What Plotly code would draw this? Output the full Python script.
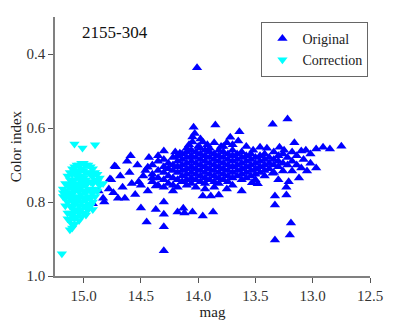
import plotly.graph_objects as go

# ---- Original (blue) : scattered points, (mag, color index) ----
orig_scatter_mag = [14.01, 13.22, 13.35, 13.85, 14.04, 14.05, 14.05, 13.96, 13.64, 13.72,
                    12.75, 12.85, 12.91, 12.97, 13.06, 13.10, 13.16,
                    13.33, 13.20, 13.19, 13.33, 13.33, 13.23, 13.23, 13.96, 13.87,
                    14.30, 14.45, 14.30, 14.37, 14.30, 14.50, 14.18, 14.12, 14.05, 14.13,
                    13.96, 13.89, 13.82, 13.94, 14.22, 14.30,
                    14.55, 14.70, 14.64, 14.83, 14.82, 14.78, 14.73, 14.59, 14.62, 14.53,
                    14.44, 14.43, 14.68, 14.58, 14.76, 14.50, 14.44, 14.37, 14.92, 14.77,
                    14.72, 14.66, 14.60, 14.48, 14.52, 14.40, 14.46, 14.87, 14.74,
                    14.30, 14.16, 14.35, 13.58, 13.52, 13.46, 13.40, 13.29, 13.25, 13.75,
                    13.80, 13.90, 14.00, 14.10, 14.20, 13.65,
                    13.48, 13.53, 13.62, 13.75, 13.30, 13.21, 13.12, 13.05, 12.97, 13.10,
                    13.18, 13.26, 13.35,
                    14.08, 13.98, 14.03, 13.92, 13.86, 13.78, 13.70]
orig_scatter_ci = [0.437, 0.576, 0.590, 0.592, 0.598, 0.624, 0.638, 0.638, 0.610, 0.625,
                   0.649, 0.657, 0.652, 0.657, 0.660, 0.662, 0.640,
                   0.903, 0.889, 0.857, 0.808, 0.784, 0.781, 0.760, 0.838, 0.827,
                   0.932, 0.854, 0.867, 0.820, 0.833, 0.816, 0.827, 0.830, 0.827, 0.817,
                   0.784, 0.784, 0.781, 0.765, 0.770, 0.800,
                   0.780, 0.790, 0.790, 0.790, 0.800, 0.765, 0.703, 0.675, 0.690, 0.700,
                   0.706, 0.680, 0.730, 0.750, 0.740, 0.755, 0.770, 0.757, 0.805, 0.738,
                   0.705, 0.760, 0.720, 0.730, 0.745, 0.735, 0.715, 0.770, 0.775,
                   0.662, 0.668, 0.675, 0.650, 0.660, 0.652, 0.655, 0.652, 0.660, 0.640,
                   0.650, 0.655, 0.650, 0.655, 0.665, 0.635,
                   0.751, 0.748, 0.770, 0.765, 0.740, 0.745, 0.735, 0.716, 0.708, 0.708,
                   0.716, 0.716, 0.722,
                   0.645, 0.630, 0.615, 0.645, 0.640, 0.650, 0.645]

# ---- Original (blue) : dense core, one column of color-index values per mag ----
orig_core_mag = [14.40, 14.35, 14.30, 14.26, 14.22, 14.18, 14.14, 14.10, 14.06, 14.02,
                 13.98, 13.94, 13.90, 13.86, 13.82, 13.78, 13.74, 13.70, 13.66, 13.62,
                 13.58, 13.54, 13.50, 13.46, 13.42, 13.38, 13.34, 13.30, 13.26, 13.22,
                 13.18, 13.14, 13.08, 13.02]
orig_core_ci = [
    [0.700, 0.725, 0.745],
    [0.690, 0.715, 0.735, 0.755],
    [0.685, 0.705, 0.720, 0.740, 0.760],
    [0.695, 0.710, 0.730, 0.750],
    [0.680, 0.700, 0.715, 0.735, 0.755],
    [0.675, 0.690, 0.705, 0.720, 0.740, 0.760],
    [0.670, 0.685, 0.700, 0.715, 0.730, 0.745],
    [0.665, 0.680, 0.695, 0.710, 0.725, 0.740, 0.755],
    [0.660, 0.675, 0.690, 0.705, 0.720, 0.735, 0.750],
    [0.665, 0.680, 0.695, 0.710, 0.725, 0.740, 0.760],
    [0.655, 0.670, 0.685, 0.700, 0.715, 0.730, 0.745],
    [0.660, 0.675, 0.690, 0.705, 0.720, 0.735, 0.750],
    [0.665, 0.680, 0.695, 0.710, 0.725, 0.740],
    [0.670, 0.685, 0.700, 0.715, 0.730, 0.745, 0.760],
    [0.660, 0.675, 0.690, 0.705, 0.720, 0.735, 0.750],
    [0.665, 0.680, 0.695, 0.710, 0.725, 0.740],
    [0.670, 0.685, 0.700, 0.715, 0.730, 0.745],
    [0.660, 0.675, 0.690, 0.705, 0.720, 0.735, 0.755],
    [0.670, 0.685, 0.700, 0.715, 0.730],
    [0.665, 0.680, 0.695, 0.710, 0.725, 0.740],
    [0.675, 0.690, 0.705, 0.720, 0.735],
    [0.670, 0.685, 0.700, 0.715, 0.730],
    [0.680, 0.695, 0.710, 0.725, 0.740],
    [0.675, 0.690, 0.705, 0.720],
    [0.670, 0.685, 0.700, 0.715, 0.730],
    [0.680, 0.695, 0.710],
    [0.665, 0.685, 0.700, 0.720],
    [0.675, 0.690, 0.705],
    [0.670, 0.695],
    [0.680, 0.700],
    [0.665, 0.690],
    [0.675, 0.700],
    [0.685],
    [0.670, 0.695],
]

# ---- Correction (cyan) ----
corr_scatter_mag = [15.08, 15.01, 14.90, 15.19]
corr_scatter_ci = [0.643, 0.654, 0.645, 0.940]

corr_core_mag = [15.18, 15.16, 15.14, 15.12, 15.10, 15.08, 15.06, 15.04, 15.02, 15.00,
                 14.98, 14.96, 14.94, 14.92, 14.90, 14.88, 14.86, 14.83]
corr_core_ci = [
    [0.765, 0.775, 0.785],
    [0.750, 0.770, 0.790, 0.810],
    [0.730, 0.755, 0.780, 0.800, 0.830, 0.845],
    [0.720, 0.740, 0.760, 0.775, 0.790, 0.810, 0.830, 0.850, 0.875],
    [0.710, 0.725, 0.745, 0.760, 0.780, 0.795, 0.815, 0.835, 0.860, 0.870],
    [0.705, 0.720, 0.740, 0.755, 0.770, 0.790, 0.805, 0.825, 0.845, 0.860],
    [0.700, 0.715, 0.730, 0.750, 0.765, 0.785, 0.800, 0.820, 0.840],
    [0.700, 0.720, 0.735, 0.755, 0.770, 0.790, 0.810, 0.830, 0.850],
    [0.695, 0.710, 0.730, 0.745, 0.760, 0.780, 0.800, 0.820, 0.840],
    [0.695, 0.715, 0.735, 0.750, 0.770, 0.790, 0.810, 0.830],
    [0.700, 0.720, 0.740, 0.755, 0.775, 0.795, 0.815, 0.835],
    [0.700, 0.720, 0.745, 0.765, 0.785, 0.805, 0.820],
    [0.705, 0.725, 0.745, 0.770, 0.790, 0.810],
    [0.710, 0.730, 0.750, 0.775, 0.800, 0.820],
    [0.720, 0.740, 0.765, 0.785],
    [0.725, 0.745, 0.770],
    [0.735, 0.755],
    [0.750],
]

x_ticks = [15.0, 14.5, 14.0, 13.5, 13.0, 12.5]
y_ticks = [0.4, 0.6, 0.8, 1.0]


def flatten(mags, cols):
    xs, ys = [], []
    for m, col in zip(mags, cols):
        for c in col:
            xs.append(m)
            ys.append(c)
    return xs, ys


ox, oy = flatten(orig_core_mag, orig_core_ci)
orig_x = orig_scatter_mag + ox
orig_y = orig_scatter_ci + oy
cx, cy = flatten(corr_core_mag, corr_core_ci)
corr_x = corr_scatter_mag + cx
corr_y = corr_scatter_ci + cy

FONT = "Liberation Serif"

fig = go.Figure()
fig.add_trace(go.Scatter(x=orig_x, y=orig_y, mode="markers", name="Original",
                         marker=dict(symbol="triangle-up", size=9, color="#0000FF",
                                     line=dict(width=0))))
fig.add_trace(go.Scatter(x=corr_x, y=corr_y, mode="markers", name="Correction",
                         marker=dict(symbol="triangle-down", size=9, color="#00FFFF",
                                     line=dict(width=0))))

axis_common = dict(showgrid=False, zeroline=False, showline=True, linewidth=1.5,
                   linecolor="#808080", ticks="outside", ticklen=5, tickwidth=1,
                   tickcolor="#555555", tickfont=dict(family=FONT, size=15, color="#333333"),
                   mirror=False, automargin=False)

# The page body adds an 8px offset, so the figure is sized 8px smaller
fig.update_layout(
    width=409, height=317,
    margin=dict(l=47, r=47, t=9, b=49, autoexpand=False),
    paper_bgcolor="white", plot_bgcolor="white",
    font=dict(family=FONT, size=14, color="#222222"),
    xaxis=dict(range=[15.25, 12.5], tickvals=x_ticks, ticktext=[f"{v:.1f}" for v in x_ticks],
               title=dict(text="mag", font=dict(family=FONT, size=15, color="#222222"), standoff=0),
               **axis_common),
    yaxis=dict(range=[1.0, 0.3], tickvals=y_ticks, ticktext=[f"{v:.1f}" for v in y_ticks],
               title=dict(text="Color index", font=dict(family=FONT, size=15, color="#222222"), standoff=5),
               **axis_common),
    legend=dict(x=0.995, y=0.981, xanchor="right", yanchor="top",
                bordercolor="#666666", borderwidth=1, bgcolor="white",
                font=dict(family=FONT, size=14, color="#222222"),
                tracegroupgap=0, itemsizing="trace", itemwidth=30),
    showlegend=True,
    annotations=[dict(text="2155-304", x=0.079, y=0.942, xref="paper", yref="paper",
                      xanchor="left", yanchor="middle", showarrow=False,
                      font=dict(family=FONT, size=17, color="#111111"))],
)

fig.write_html("out.html")
